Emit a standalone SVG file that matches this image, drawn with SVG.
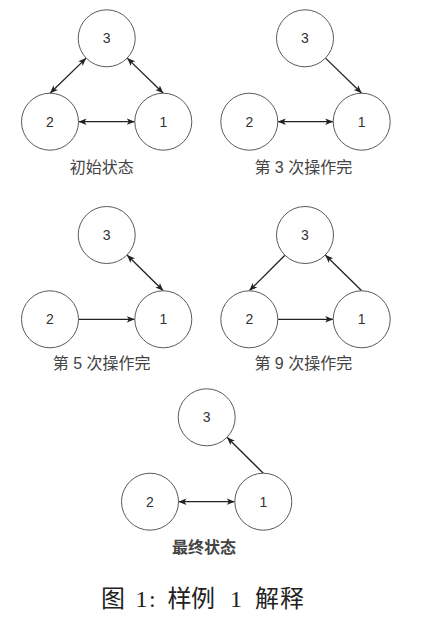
<svg xmlns="http://www.w3.org/2000/svg" width="434" height="622" viewBox="0 0 434 622">
<style>
.n circle{fill:#fff;stroke:#5a5a5a;stroke-width:1}
.n text{font-family:"Liberation Sans","Noto Sans",sans-serif;font-size:14px;fill:#333;text-anchor:middle}
.e path{fill:none;stroke:#222;stroke-width:1.3}
.lbl{font-family:"Liberation Sans","Noto Sans CJK SC",sans-serif;font-size:16px;fill:#444;text-anchor:middle}
.cap{font-family:"Liberation Serif","Noto Sans CJK SC",serif;font-size:24px;fill:#222}
</style>
<defs>
<marker id="ah" viewBox="0 0 8 8" refX="8" refY="4" markerWidth="8" markerHeight="8" markerUnits="userSpaceOnUse" orient="auto-start-reverse">
<path d="M0,0.8 L8,4 L0,7.2 L2,4 z" fill="#222"/>
</marker>
</defs>
<rect width="434" height="622" fill="#fff"/>

<g id="connectors" class="e">
<path d="M86.2,58.1 L50,93.2" marker-start="url(#ah)" marker-end="url(#ah)"/>
<path d="M127.2,58.1 L163.3,93.2" marker-start="url(#ah)" marker-end="url(#ah)"/>
<path d="M78.5,121.7 L134.8,121.7" marker-start="url(#ah)" marker-end="url(#ah)"/>
<path d="M325.5,58.1 L361.7,93.2" marker-end="url(#ah)"/>
<path d="M277.8,121.7 L333.2,121.7" marker-start="url(#ah)" marker-end="url(#ah)"/>
<path d="M127,255 L163.3,290.8" marker-start="url(#ah)" marker-end="url(#ah)"/>
<path d="M78.5,319.3 L134.8,319.3" marker-end="url(#ah)"/>
<path d="M284.9,255.2 L249.3,290.8" marker-end="url(#ah)"/>
<path d="M361.7,290.8 L325.3,255" marker-end="url(#ah)"/>
<path d="M277.8,319.3 L333.2,319.3" marker-end="url(#ah)"/>
<path d="M263.3,473.2 L227,437.3" marker-end="url(#ah)"/>
<path d="M178.5,501.7 L234.8,501.7" marker-start="url(#ah)" marker-end="url(#ah)"/>
</g>

<g id="p1-n3" class="n"><circle cx="106.7" cy="38.3" r="28.5"/><text x="106.7" y="43.3">3</text></g>
<g id="p1-n2" class="n"><circle cx="50" cy="121.7" r="28.5"/><text x="50" y="126.7">2</text></g>
<g id="p1-n1" class="n"><circle cx="163.3" cy="121.7" r="28.5"/><text x="163.3" y="126.7">1</text></g>
<text id="p1-label" class="lbl" x="101.7" y="172.5">初始状态</text>

<g id="p2-n3" class="n"><circle cx="305" cy="38.3" r="28.5"/><text x="305" y="43.3">3</text></g>
<g id="p2-n2" class="n"><circle cx="249.3" cy="121.7" r="28.5"/><text x="249.3" y="126.7">2</text></g>
<g id="p2-n1" class="n"><circle cx="361.7" cy="121.7" r="28.5"/><text x="361.7" y="126.7">1</text></g>
<text id="p2-label" class="lbl" x="303.3" y="172.5">第 3 次操作完</text>

<g id="p3-n3" class="n"><circle cx="106.7" cy="235" r="28.5"/><text x="106.7" y="240">3</text></g>
<g id="p3-n2" class="n"><circle cx="50" cy="319.3" r="28.5"/><text x="50" y="324.3">2</text></g>
<g id="p3-n1" class="n"><circle cx="163.3" cy="319.3" r="28.5"/><text x="163.3" y="324.3">1</text></g>
<text id="p3-label" class="lbl" x="101.7" y="369">第 5 次操作完</text>

<g id="p4-n3" class="n"><circle cx="305" cy="235" r="28.5"/><text x="305" y="240">3</text></g>
<g id="p4-n2" class="n"><circle cx="249.3" cy="319.3" r="28.5"/><text x="249.3" y="324.3">2</text></g>
<g id="p4-n1" class="n"><circle cx="361.7" cy="319.3" r="28.5"/><text x="361.7" y="324.3">1</text></g>
<text id="p4-label" class="lbl" x="303.3" y="369">第 9 次操作完</text>

<g id="p5-n3" class="n"><circle cx="206.7" cy="417.3" r="28.5"/><text x="206.7" y="422.3">3</text></g>
<g id="p5-n2" class="n"><circle cx="150" cy="501.7" r="28.5"/><text x="150" y="506.7">2</text></g>
<g id="p5-n1" class="n"><circle cx="263.3" cy="501.7" r="28.5"/><text x="263.3" y="506.7">1</text></g>
<text id="p5-label" class="lbl" x="204" y="552.5" font-weight="bold" fill="#333">最终状态</text>

<text id="caption" class="cap" x="101 125 135.5 149 157 167.5 191 215 230 242 255 280" y="607">图 1: 样例 1 解释</text>
</svg>
